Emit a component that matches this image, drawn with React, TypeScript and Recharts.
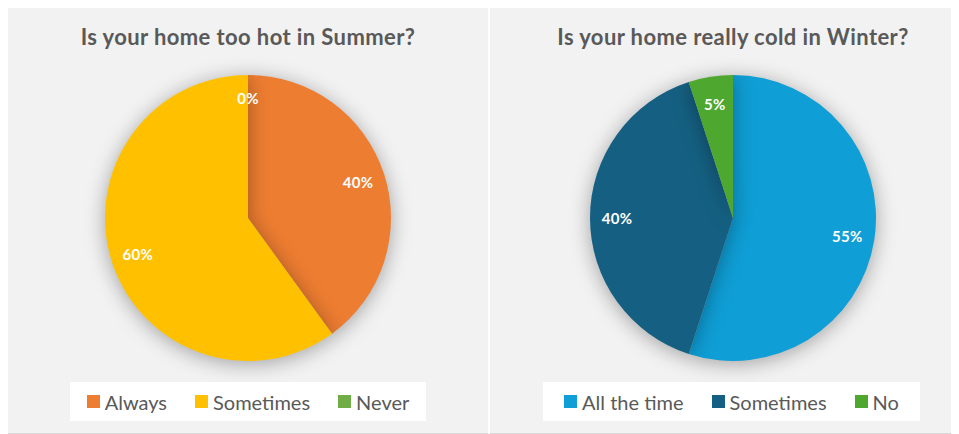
import { PieChart, Pie, Cell } from 'recharts';

const summerCategories = ['Always', 'Sometimes', 'Never'];
const summerValues = [40, 60, 0];
const summerColors = ['#ED7D31', '#FFC000', '#70AD47'];

const winterCategories = ['All the time', 'Sometimes', 'No'];
const winterValues = [55, 40, 5];
const winterColors = ['#0F9ED5', '#156082', '#4EA72E'];

const FONT = 'Lato, "Open Sans", sans-serif';
const RAD = Math.PI / 180;

const renderLabel = ({ cx, cy, midAngle, outerRadius, percent }: any) => {
  const r = outerRadius * (percent === 0 ? 0.84 : 0.81);
  const x = cx + r * Math.cos(-midAngle * RAD);
  const y = cy + r * Math.sin(-midAngle * RAD);
  return (
    <text
      x={x}
      y={y}
      fill="#ffffff"
      textAnchor="middle"
      dominantBaseline="central"
      style={{ fontFamily: FONT, fontSize: 15, fontWeight: 700, letterSpacing: 0.3 }}
    >
      {`${Math.round(percent * 100)}%`}
    </text>
  );
};

interface PanelProps {
  title: string;
  categories: string[];
  values: number[];
  colors: string[];
  width: number;
  innerWidth: number;
  cx: number;
  legendLeft: number;
  legendWidth: number;
  gap: number;
  marginRight?: number;
}

function PiePanel({ title, categories, values, colors, width, innerWidth, cx, legendLeft, legendWidth, gap, marginRight = 0 }: PanelProps) {
  const data = categories.map((name, i) => ({ name, value: values[i] }));
  return (
    <div
      style={{
        position: 'relative',
        width,
        height: 425,
        overflow: 'hidden',
        background: '#f2f2f2',
        borderTop: '1px solid #d9d9d9',
        borderBottom: '1px solid #d9d9d9',
        marginRight,
        flexShrink: 0,
      }}
    >
      <div
        style={{
          position: 'absolute',
          top: 16,
          left: 0,
          width: innerWidth,
          textAlign: 'center',
          fontFamily: FONT,
          fontSize: 22,
          fontWeight: 700,
          letterSpacing: 0.4,
          lineHeight: '26px',
          color: '#595959',
        }}
      >
        {title}
      </div>
      <div style={{ position: 'absolute', top: 0, left: 0 }}>
        <PieChart width={innerWidth} height={425} margin={{ top: 0, right: 0, bottom: 0, left: 0 }}>
          <Pie
            data={data}
            dataKey="value"
            nameKey="name"
            cx={cx}
            cy={210}
            outerRadius={143}
            startAngle={90}
            endAngle={-270}
            stroke="none"
            label={renderLabel}
            labelLine={false}
            isAnimationActive={false}
            style={{ filter: 'drop-shadow(0px 3px 10px rgba(0,0,0,0.33))' }}
          >
            {data.map((d, i) => (
              <Cell key={d.name} fill={colors[i]} />
            ))}
          </Pie>
        </PieChart>
      </div>
      <div
        style={{
          position: 'absolute',
          top: 374,
          left: legendLeft,
          width: legendWidth,
          height: 39,
          background: '#ffffff',
          display: 'flex',
          alignItems: 'center',
          justifyContent: 'center',
          gap,
          fontFamily: FONT,
          fontSize: 20,
          color: '#595959',
        }}
      >
        {categories.map((name, i) => (
          <div key={name} style={{ display: 'flex', alignItems: 'center' }}>
            <span style={{ width: 13, height: 13, background: colors[i], marginRight: 5, display: 'inline-block' }} />
            <span>{name}</span>
          </div>
        ))}
      </div>
    </div>
  );
}

export default function App() {
  return (
    <div style={{ display: 'flex', marginTop: -1, width: 951, background: '#ffffff' }}>
      <PiePanel
        title="Is your home too hot in Summer?"
        categories={summerCategories}
        values={summerValues}
        colors={summerColors}
        width={480}
        innerWidth={480}
        cx={240}
        legendLeft={62}
        legendWidth={356}
        gap={28}
        marginRight={2}
      />
      <PiePanel
        title="Is your home really cold in Winter?"
        categories={winterCategories}
        values={winterValues}
        colors={winterColors}
        width={469}
        innerWidth={486}
        cx={243}
        legendLeft={53}
        legendWidth={377}
        gap={28}
      />
    </div>
  );
}
